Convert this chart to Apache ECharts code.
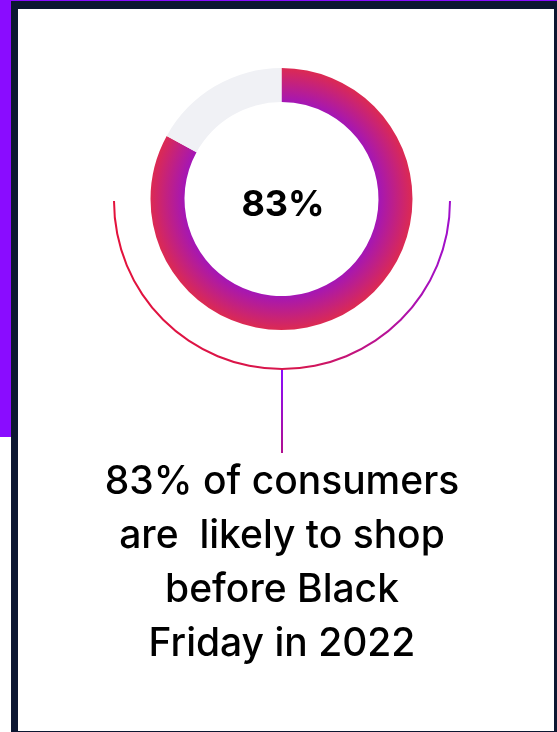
<!DOCTYPE html>
<html>
<head>
<meta charset="utf-8">
<script src="https://cdn.jsdelivr.net/npm/echarts@6/dist/echarts.min.js"></script>
<style>
  html, body { margin: 0; padding: 0; background: #ffffff; }
  #wrap { position: relative; width: 557px; height: 732px; overflow: hidden; background: #ffffff; }
  .strip-top { position: absolute; left: 0; top: 0; width: 557px; height: 1px; background: #8A0CFF; }
  .strip-left { position: absolute; left: 0; top: 0; width: 11px; height: 437px; background: #8A0CFF; }
  .frame { position: absolute; left: 11px; top: 1px; width: 536px; height: 722px;
           border-style: solid; border-color: #0C1732; border-width: 8px 3px 2px 7px; background: #ffffff; }
  #chart { position: absolute; left: 0; top: 0; width: 557px; height: 732px; }
</style>
</head>
<body>
<div id="wrap">
  <div class="strip-top"></div>
  <div class="strip-left"></div>
  <div class="frame"></div>
  <div id="chart"></div>
</div>
<script>
// ---- data ----
const categories = ['Likely to shop before Black Friday', 'Not likely'];
const values = [83, 17];
const centerLabel = '83%';
const captionLines = ['83% of consumers', 'are  likely to shop', 'before Black', 'Friday in 2022'];
const arcParts = ['lower half', 'upper half'];
const arcValues = [50, 50];

const FONT = 'Inter, "Noto Sans", sans-serif';
const cx = 281.5, cy = 199;

const chart = echarts.init(document.getElementById('chart'), null, { renderer: 'canvas' });

const ringGradient = {
  type: 'radial', x: cx, y: cy, r: 131, global: true,
  colorStops: [
    { offset: 0, color: '#A416B6' },
    { offset: 0.74, color: '#A416B6' },
    { offset: 1, color: '#DC2A52' }
  ]
};

const arcGradient = {
  type: 'linear', x: 114, y: 0, x2: 450, y2: 0, global: true,
  colorStops: [
    { offset: 0, color: '#E3123C' },
    { offset: 0.55, color: '#D6164F' },
    { offset: 1, color: '#A00FCC' }
  ]
};

chart.setOption({
  backgroundColor: 'transparent',
  animation: false,
  series: [
    {
      type: 'pie',
      center: [cx, cy],
      radius: [97, 131],
      startAngle: 90,
      clockwise: true,
      silent: true,
      label: { show: false },
      labelLine: { show: false },
      data: categories.map((c, i) => ({
        name: c,
        value: values[i],
        itemStyle: { color: i === 0 ? ringGradient : '#F0F1F5' }
      }))
    },
    {
      type: 'pie',
      center: [282, 201],
      radius: [167, 169],
      startAngle: 0,
      clockwise: true,
      silent: true,
      label: { show: false },
      labelLine: { show: false },
      data: arcParts.map((p, i) => ({
        name: p,
        value: arcValues[i],
        itemStyle: { color: i === 0 ? arcGradient : 'rgba(0,0,0,0)' }
      }))
    }
  ],
  graphic: [
    {
      type: 'text',
      x: 283,
      y: 205,
      style: {
        text: centerLabel,
        fontFamily: FONT,
        fontSize: 36,
        fontWeight: 'bold',
        fill: '#000000',
        align: 'center',
        verticalAlign: 'middle'
      },
      silent: true
    },
    {
      type: 'line',
      shape: { x1: 282, y1: 369, x2: 282, y2: 453 },
      style: {
        lineWidth: 2,
        stroke: {
          type: 'linear', x: 0, y: 369, x2: 0, y2: 453, global: true,
          colorStops: [{ offset: 0, color: '#8A0CFF' }, { offset: 1, color: '#B0108F' }]
        }
      },
      silent: true
    },
    {
      type: 'text',
      x: 282,
      y: 455,
      style: {
        text: captionLines.join('\n'),
        fontFamily: FONT,
        fontSize: 39,
        fontWeight: 500,
        lineHeight: 54,
        fill: '#000000',
        align: 'center',
        verticalAlign: 'top'
      },
      silent: true
    }
  ]
});
</script>
</body>
</html>
